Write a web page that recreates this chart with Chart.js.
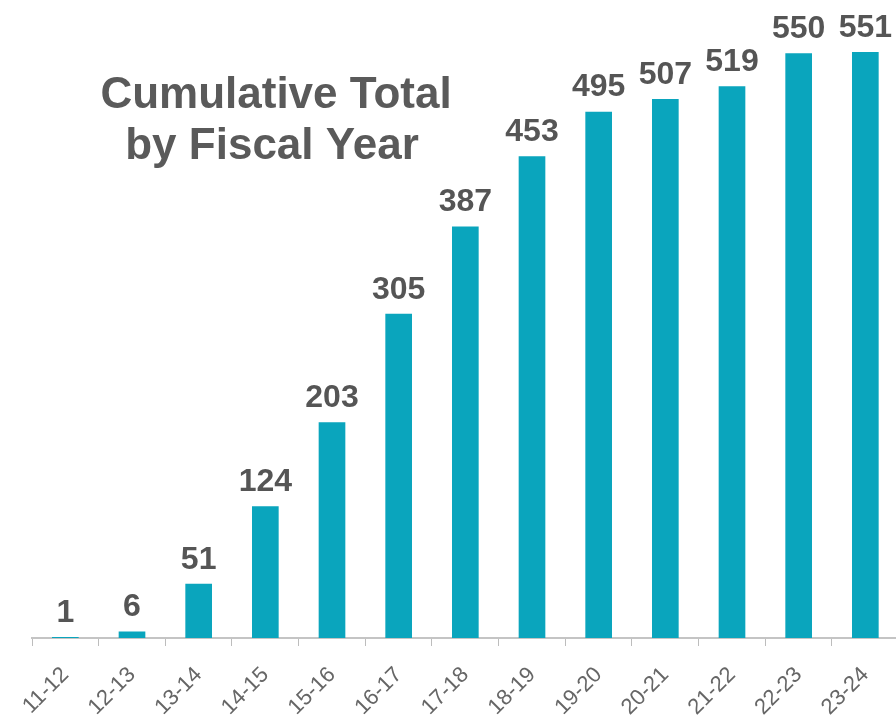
<!DOCTYPE html>
<html>
<head>
<meta charset="utf-8">
<script src="https://cdn.jsdelivr.net/npm/chart.js@4"></script>
<style>
  html, body { margin: 0; padding: 0; background: #fff; overflow: hidden; }
  #wrap { width: 900px; height: 724px; }
</style>
</head>
<body>
<div id="wrap"><canvas id="graficoTotal"></canvas></div>
<script>
const anosFiscais = ['11-12', '12-13', '13-14', '14-15', '15-16', '16-17', '17-18', '18-19', '19-20', '20-21', '21-22', '22-23', '23-24'];
const totais = [1, 6, 51, 124, 203, 305, 387, 453, 495, 507, 519, 550, 551];
const tituloLinhas = ['Cumulative Total', 'by Fiscal Year'];

// value labels above each bar
const rotulosValores = {
  id: 'rotulosValores',
  afterDatasetsDraw(chart) {
    const ctx = chart.ctx;
    ctx.save();
    ctx.font = 'bold 32px "Liberation Sans", Arial, sans-serif';
    ctx.fillStyle = '#555555';
    ctx.textAlign = 'center';
    ctx.textBaseline = 'bottom';
    chart.getDatasetMeta(0).data.forEach((bar, i) => {
      ctx.fillText(totais[i], bar.x, bar.y - 8);
    });
    ctx.restore();
  }
};

// title drawn inside the plot
const tituloInterno = {
  id: 'tituloInterno',
  afterDraw(chart) {
    const ctx = chart.ctx;
    ctx.save();
    ctx.font = 'bold 44px "Liberation Sans", Arial, sans-serif';
    ctx.fillStyle = '#5a5a5a';
    ctx.textAlign = 'center';
    ctx.textBaseline = 'middle';
    ctx.fillText(tituloLinhas[0], 276, 96);
    ctx.fillText(tituloLinhas[1], 272, 147);
    ctx.restore();
  }
};

const graficoTotal = new Chart(document.getElementById('graficoTotal'), {
  type: 'bar',
  data: {
    labels: anosFiscais,
    datasets: [{
      data: totais,
      backgroundColor: '#0aa5bd',
      barPercentage: 0.4,
      categoryPercentage: 1
    }]
  },
  options: {
    responsive: true,
    maintainAspectRatio: false,
    animation: false,
    layout: { padding: { left: 32, right: 0, top: 0, bottom: 0 } },
    plugins: { legend: { display: false }, tooltip: { enabled: false } },
    scales: {
      x: {
        afterFit(scale) { scale.height = 86; },
        grid: { offset: true, drawOnChartArea: false, color: '#bdbdbd', tickLength: 8 },
        border: { color: '#c4c4c4', width: 2 },
        ticks: {
          color: '#666666',
          font: { family: '"Liberation Sans", Arial, sans-serif', size: 22 },
          minRotation: 45,
          maxRotation: 45,
          padding: 16
        }
      },
      y: {
        display: false,
        min: 0,
        max: 600
      }
    }
  },
  plugins: [rotulosValores, tituloInterno]
});
</script>
</body>
</html>
